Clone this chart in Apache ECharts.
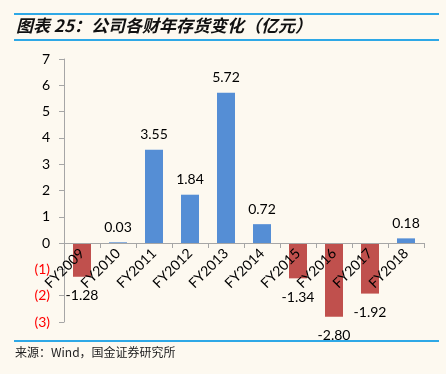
<!DOCTYPE html>
<html><head><meta charset="utf-8">
<script src="https://cdn.jsdelivr.net/npm/echarts@6/dist/echarts.min.js"></script>
<style>html,body{margin:0;padding:0;background:#FDF9F0;}#c{width:446px;height:374px;}</style>
</head><body><div id="c"></div>
<script>
const categories = ['FY2009','FY2010','FY2011','FY2012','FY2013','FY2014','FY2015','FY2016','FY2017','FY2018'];
const values = [-1.28, 0.03, 3.55, 1.84, 5.72, 0.72, -1.34, -2.80, -1.92, 0.18];
const titleText = '图表 25：公司各财年存货变化（亿元）';
const sourceText = '来源：Wind，国金证券研究所';
const BLUE = '#558ED5', RED = '#C0504D';
const chart = echarts.init(document.getElementById('c'));
chart.setOption({
  backgroundColor: '#FDF9F0',
  animation: false,
  grid: {left: 64, right: 22, top: 59, bottom: 52},
  xAxis: {
    type: 'category', data: categories, position: 'bottom', offset: -79, z: 5,
    axisLine: {onZero: false, lineStyle: {color: '#A6A6A6', width: 1}},
    axisTick: {show: true, alignWithLabel: false, length: 5, lineStyle: {color: '#A6A6A6'}},
    axisLabel: {rotate: 45, margin: 8, fontSize: 14, color: '#000', fontFamily: 'Lato, "Open Sans", sans-serif', interval: 0}
  },
  yAxis: {
    type: 'value', min: -3, max: 7, interval: 1,
    splitLine: {show: false},
    axisLine: {show: true, lineStyle: {color: '#A6A6A6'}},
    axisTick: {show: true, length: 5, lineStyle: {color: '#A6A6A6'}},
    axisLabel: {
      fontSize: 14, margin: 14, fontFamily: 'Lato, "Open Sans", sans-serif',
      formatter: v => v < 0 ? '(' + (-v) + ')' : String(v),
      color: v => (Number(v) < 0 ? '#FF0000' : '#000')
    }
  },
  series: [{
    type: 'bar', barWidth: '50%', z: 2,
    data: values.map(v => ({
      value: v,
      itemStyle: {color: v < 0 ? RED : BLUE},
      label: {show: true, position: v < 0 ? 'bottom' : 'top', distance: v < 0 ? 12 : 8,
        formatter: p => p.value.toFixed(2), fontSize: 14, color: '#000',
        fontFamily: 'Lato, "Open Sans", sans-serif'}
    }))
  }],
  graphic: [
    {type: 'rect', shape: {x: 14, y: 13, width: 425, height: 2}, style: {fill: '#2EA8E6'}},
    {type: 'rect', shape: {x: 14, y: 39, width: 425, height: 2}, style: {fill: '#2EA8E6'}},
    {type: 'text', left: 16, top: 17, style: {text: titleText, fill: '#111', font: 'italic bold 17px "Noto Sans CJK SC", sans-serif'}},
    {type: 'rect', shape: {x: 14, y: 340, width: 425, height: 2}, style: {fill: '#2EA8E6'}},
    {type: 'text', left: 15, top: 346, style: {text: sourceText, fill: '#222', font: '12px "Noto Sans CJK SC", sans-serif'}}
  ]
});
</script></body></html>
